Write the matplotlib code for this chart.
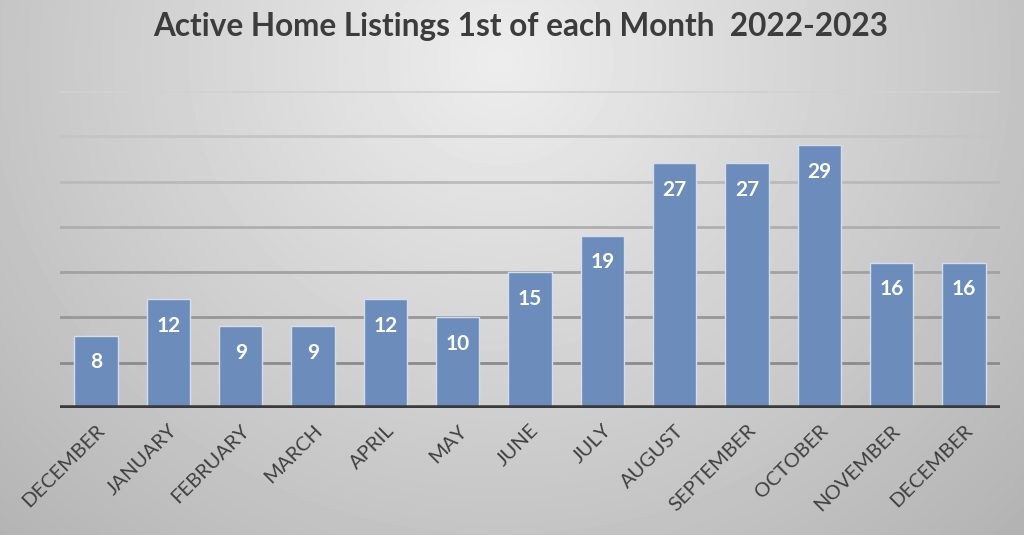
import numpy as np
import matplotlib.pyplot as plt

# data
months = ['DECEMBER', 'JANUARY', 'FEBRUARY', 'MARCH', 'APRIL', 'MAY', 'JUNE',
          'JULY', 'AUGUST', 'SEPTEMBER', 'OCTOBER', 'NOVEMBER', 'DECEMBER']
listings = [8, 12, 9, 9, 12, 10, 15, 19, 27, 27, 29, 16, 16]
grid_levels = [5, 10, 15, 20, 25, 30, 35]

fig = plt.figure(figsize=(10.24, 5.35), dpi=100)

# radial grey gradient behind everything
bg = fig.add_axes([0, 0, 1, 1], zorder=0)
yy, xx = np.mgrid[0:535, 0:1024]
r = np.sqrt(((xx - 500) / 700.0) ** 2 + ((yy - 60) / 650.0) ** 2)
shade = np.clip(0.93 - 0.22 * r, 0.68, 0.93)
bg.imshow(shade, cmap='gray', vmin=0, vmax=1, aspect='auto', interpolation='bilinear')
bg.axis('off')

ax = fig.add_axes([60 / 1024, 127 / 535, 940 / 1024, (408 - 91) / 535], zorder=1)
ax.patch.set_alpha(0)

x = np.arange(len(months))
ax.set_xlim(-0.5, len(months) - 0.5)
ax.set_ylim(0, 35)

# gridlines, fading out towards the top
for lv in grid_levels:
    c = 0.50 + 0.32 * (lv / 35.0)
    ax.axhline(lv, color=(c, c, c), linewidth=2, zorder=1)

bars = ax.bar(x, listings, width=0.6, color='#6c8cbc', edgecolor='#d3ddec',
              linewidth=1, zorder=2)
ax.axhline(0, color='#3a3a3a', linewidth=4, zorder=3)

for xi, v in zip(x, listings):
    ax.annotate(str(v), (xi, v), xytext=(0, -19), textcoords='offset points',
                ha='center', va='center', color='white', fontsize=15,
                fontweight='bold', fontfamily='Lato', zorder=4)

ax.set_xticks(x)
ax.set_xticklabels(months, rotation=45, ha='right', rotation_mode='anchor',
                   fontsize=14.5, color='#404040', fontfamily='Lato')
ax.tick_params(axis='x', length=0, pad=10)
ax.set_yticks([])
for s in ax.spines.values():
    s.set_visible(False)

fig.text(0.508, 0.95, 'Active Home Listings 1st of each Month  2022-2023',
         ha='center', va='center', fontsize=22.7, fontweight='bold',
         color='#3c3c3c', fontfamily='Lato')

plt.savefig('out.png', dpi=100)
